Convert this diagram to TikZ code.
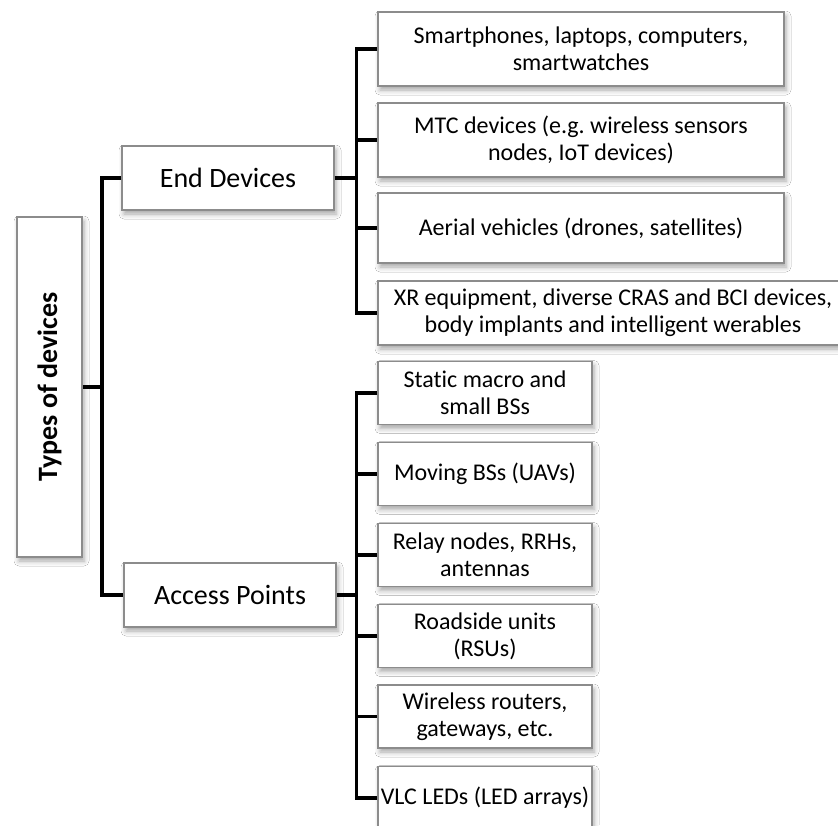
\documentclass[tikz,border=0pt]{standalone}
\usepackage{fontspec}
\setmainfont{Carlito}[Ligatures=NoCommon]
\usepackage{graphicx}
\usetikzlibrary{shadows.blur}
\frenchspacing

\begin{document}
\begin{tikzpicture}[x=0.5pt,y=-0.5pt,
  box/.style={draw=black!45,line width=0.6pt,fill=white,inner sep=0pt,align=center,
    blur shadow={shadow xshift=1pt,shadow yshift=-2pt,shadow blur radius=2.5pt,shadow opacity=35}},
  leaf/.style={box,minimum width=203pt,font=\fontsize{12pt}{13.4pt}\selectfont},
  small/.style={box,minimum width=107pt,minimum height=31.5pt,font=\fontsize{12pt}{13.4pt}\selectfont},
  group/.style={box,minimum width=106pt,minimum height=32pt,font=\fontsize{14pt}{16pt}\selectfont},
  conn/.style={line width=1.7pt}]
\useasboundingbox (0,0) rectangle (838,825);
\fill[white] (0,0) rectangle (838,825);
\clip (0,0) rectangle (838,825);
% root
\node[box,minimum width=32.5pt,minimum height=170pt,font=\fontsize{14pt}{16pt}\selectfont] (types) at (49.5,387) {\rotatebox{90}{\bfseries Types of devices}};
\node[group] (end) at (228,178) {End Devices};
\node[group] (access) at (230,595) {Access Points};
% end devices
\node[leaf,minimum height=37pt] (phones) at (581,49) {Smartphones, laptops, computers,\\smartwatches};
\node[leaf,minimum height=37pt] (mtc) at (581,140) {MTC devices (e.g. wireless sensors\\nodes, IoT devices)};
\node[leaf,minimum height=35pt] (aerial) at (581,228) {Aerial vehicles (drones, satellites)};
\node[leaf,minimum width=235pt,minimum height=32pt] (xr) at (613,313) {XR equipment, diverse CRAS and BCI devices,\\body implants and intelligent werables};
% access points
\node[small] (static) at (485,393) {Static macro and\\small BSs};
\node[small] (moving) at (485,474) {Moving BSs (UAVs)};
\node[small] (relay) at (485,555) {Relay nodes, RRHs,\\antennas};
\node[small] (rsu) at (485,636) {Roadside units\\(RSUs)};
\node[small] (router) at (485,716.5) {Wireless routers,\\gateways, etc.};
\node[small] (vlc) at (485,798) {VLC LEDs (LED arrays)};
% connectors
\coordinate (rootbus) at (102,387);
\coordinate (endbus) at (356.5,178);
\coordinate (accbus) at (356.5,595);
\draw[conn] (types.east) -- (rootbus);
\draw[conn] (end.west) -| (rootbus) |- (access.west);
\draw[conn] (end.east) -- (endbus);
\draw[conn] (phones.west) -| (endbus) |- (xr.west);
\draw[conn] (endbus) |- (mtc.west);
\draw[conn] (endbus) |- (aerial.west);
\draw[conn] (access.east) -- (accbus);
\draw[conn] (static.west) -| (accbus) |- (vlc.west);
\draw[conn] (accbus) |- (moving.west);
\draw[conn] (accbus) |- (relay.west);
\draw[conn] (accbus) |- (rsu.west);
\draw[conn] (accbus) |- (router.west);
\end{tikzpicture}
\end{document}
